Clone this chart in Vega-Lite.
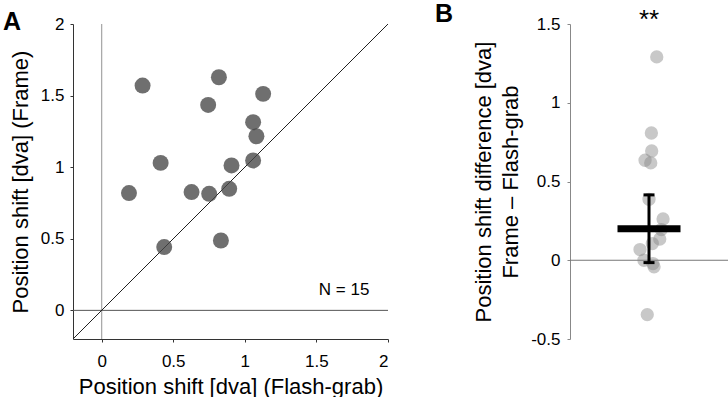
{
  "$schema": "https://vega.github.io/schema/vega-lite/v6.json",
  "background": "white",
  "padding": {"left": 3, "top": 2, "right": 0, "bottom": 0},
  "datasets": {
    "subjects": [
      {"x": 0.286, "y": 1.570},
      {"x": 0.819, "y": 1.628},
      {"x": 1.128, "y": 1.512},
      {"x": 0.744, "y": 1.435},
      {"x": 1.058, "y": 1.314},
      {"x": 1.081, "y": 1.216},
      {"x": 0.412, "y": 1.030},
      {"x": 0.907, "y": 1.012},
      {"x": 1.058, "y": 1.047},
      {"x": 0.191, "y": 0.819},
      {"x": 0.628, "y": 0.826},
      {"x": 0.751, "y": 0.814},
      {"x": 0.891, "y": 0.849},
      {"x": 0.437, "y": 0.442},
      {"x": 0.833, "y": 0.488}
    ],
    "differences": [
      {"jitter": 0.549, "diff": 1.291},
      {"jitter": 0.515, "diff": 0.808},
      {"jitter": 0.517, "diff": 0.694},
      {"jitter": 0.475, "diff": 0.635},
      {"jitter": 0.511, "diff": 0.618},
      {"jitter": 0.500, "diff": 0.387},
      {"jitter": 0.589, "diff": 0.262},
      {"jitter": 0.578, "diff": 0.195},
      {"jitter": 0.568, "diff": 0.135},
      {"jitter": 0.521, "diff": 0.106},
      {"jitter": 0.443, "diff": 0.068},
      {"jitter": 0.468, "diff": 0.000},
      {"jitter": 0.525, "diff": -0.021},
      {"jitter": 0.532, "diff": -0.042},
      {"jitter": 0.489, "diff": -0.345}
    ],
    "summary": [
      {"median": 0.2, "lo": -0.015, "hi": 0.415}
    ]
  },
  "config": {
    "font": "Liberation Sans",
    "view": {"stroke": null},
    "axis": {
      "grid": false,
      "labelFont": "Liberation Sans",
      "titleFont": "Liberation Sans",
      "labelFontSize": 17,
      "titleFontSize": 22,
      "titleFontWeight": "normal",
      "labelColor": "#000000",
      "titleColor": "#000000",
      "domainColor": "#333333",
      "tickColor": "#333333",
      "tickSize": 3,
      "labelExpr": "toString(datum.value)"
    },
    "title": {"fontSize": 25, "fontWeight": "bold", "anchor": "start", "frame": "group", "color": "#000000", "font": "Liberation Sans", "dy": 24}
  },
  "bounds": "flush",
  "spacing": 182,
  "hconcat": [
    {
      "width": 315,
      "height": 315,
      "title": {"text": "A", "dx": -70},
      "layer": [
        {
          "data": {"values": [{"x": 0, "y": -0.2, "y2": 2}]},
          "mark": {"type": "rule", "color": "#aaaaaa", "strokeWidth": 1.3},
          "encoding": {
            "x": {
              "field": "x", "type": "quantitative",
              "scale": {"domain": [-0.2, 2], "nice": false, "zero": false},
              "axis": {"values": [0, 0.5, 1, 1.5, 2], "title": "Position shift [dva] (Flash-grab)", "labelPadding": 11, "titlePadding": 7}
            },
            "y": {
              "field": "y", "type": "quantitative",
              "scale": {"domain": [-0.2, 2], "nice": false, "zero": false},
              "axis": {"values": [0, 0.5, 1, 1.5, 2], "title": "Position shift [dva] (Frame)", "labelPadding": 6, "titlePadding": 8}
            },
            "y2": {"field": "y2"}
          }
        },
        {
          "data": {"values": [{"x": -0.2, "x2": 2, "y": 0}]},
          "mark": {"type": "rule", "color": "#555555", "strokeWidth": 1},
          "encoding": {
            "x": {"field": "x", "type": "quantitative"},
            "x2": {"field": "x2"},
            "y": {"field": "y", "type": "quantitative"}
          }
        },
        {
          "data": {"values": [{"x": -0.2, "y": -0.2, "x2": 2, "y2": 2}]},
          "mark": {"type": "rule", "color": "#222222", "strokeWidth": 1},
          "encoding": {
            "x": {"field": "x", "type": "quantitative"},
            "y": {"field": "y", "type": "quantitative"},
            "x2": {"field": "x2"},
            "y2": {"field": "y2"}
          }
        },
        {
          "data": {"name": "subjects"},
          "mark": {"type": "circle", "size": 255, "color": "#474747", "opacity": 0.78},
          "encoding": {
            "x": {"field": "x", "type": "quantitative"},
            "y": {"field": "y", "type": "quantitative"}
          }
        },
        {
          "data": {"values": [{"label": "N = 15"}]},
          "mark": {"type": "text", "align": "right", "baseline": "alphabetic", "fontSize": 17, "color": "#000000"},
          "encoding": {
            "x": {"datum": 1.87, "type": "quantitative"},
            "y": {"datum": 0.105, "type": "quantitative"},
            "text": {"field": "label"}
          }
        }
      ]
    },
    {
      "width": 158,
      "height": 315,
      "title": {"text": "B", "dx": -135},
      "layer": [
        {
          "data": {"values": [{"pos": 0, "pos2": 1, "diff": 0}]},
          "mark": {"type": "rule", "color": "#777777", "strokeWidth": 1},
          "encoding": {
            "x": {
              "field": "pos", "type": "quantitative",
              "scale": {"domain": [0, 1], "nice": false, "zero": false},
              "axis": null
            },
            "x2": {"field": "pos2"},
            "y": {
              "field": "diff", "type": "quantitative",
              "scale": {"domain": [-0.5, 1.5], "nice": false, "zero": false},
              "axis": {
                "values": [-0.5, 0, 0.5, 1, 1.5],
                "title": ["Position shift difference [dva]", "Frame \u2013 Flash-grab"],
                "titleLineHeight": 27,
                "labelPadding": 7,
                "titlePadding": 8,
                "domainColor": "#888888",
                "tickColor": "#888888"
              }
            }
          }
        },
        {
          "data": {"name": "differences"},
          "mark": {"type": "circle", "size": 177, "color": "#858585", "opacity": 0.45},
          "encoding": {
            "x": {"field": "jitter", "type": "quantitative"},
            "y": {"field": "diff", "type": "quantitative"}
          }
        },
        {
          "data": {"name": "summary"},
          "mark": {"type": "rule", "color": "#000000", "strokeWidth": 3},
          "encoding": {
            "x": {"datum": 0.5, "type": "quantitative"},
            "y": {"field": "lo", "type": "quantitative"},
            "y2": {"field": "hi"}
          }
        },
        {
          "data": {"name": "summary"},
          "mark": {"type": "tick", "orient": "horizontal", "color": "#000000", "opacity": 1, "size": 11, "thickness": 3},
          "encoding": {
            "x": {"datum": 0.5, "type": "quantitative"},
            "y": {"field": "lo", "type": "quantitative"}
          }
        },
        {
          "data": {"name": "summary"},
          "mark": {"type": "tick", "orient": "horizontal", "color": "#000000", "opacity": 1, "size": 11, "thickness": 3},
          "encoding": {
            "x": {"datum": 0.5, "type": "quantitative"},
            "y": {"field": "hi", "type": "quantitative"}
          }
        },
        {
          "data": {"name": "summary"},
          "mark": {"type": "tick", "orient": "horizontal", "color": "#000000", "opacity": 1, "size": 63, "thickness": 7},
          "encoding": {
            "x": {"datum": 0.5, "type": "quantitative"},
            "y": {"field": "median", "type": "quantitative"}
          }
        },
        {
          "data": {"values": [{"label": "**"}]},
          "mark": {"type": "text", "align": "center", "baseline": "alphabetic", "fontSize": 26, "dy": 4, "color": "#000000"},
          "encoding": {
            "x": {"datum": 0.5, "type": "quantitative"},
            "y": {"datum": 1.5, "type": "quantitative"},
            "text": {"field": "label"}
          }
        }
      ]
    }
  ]
}
